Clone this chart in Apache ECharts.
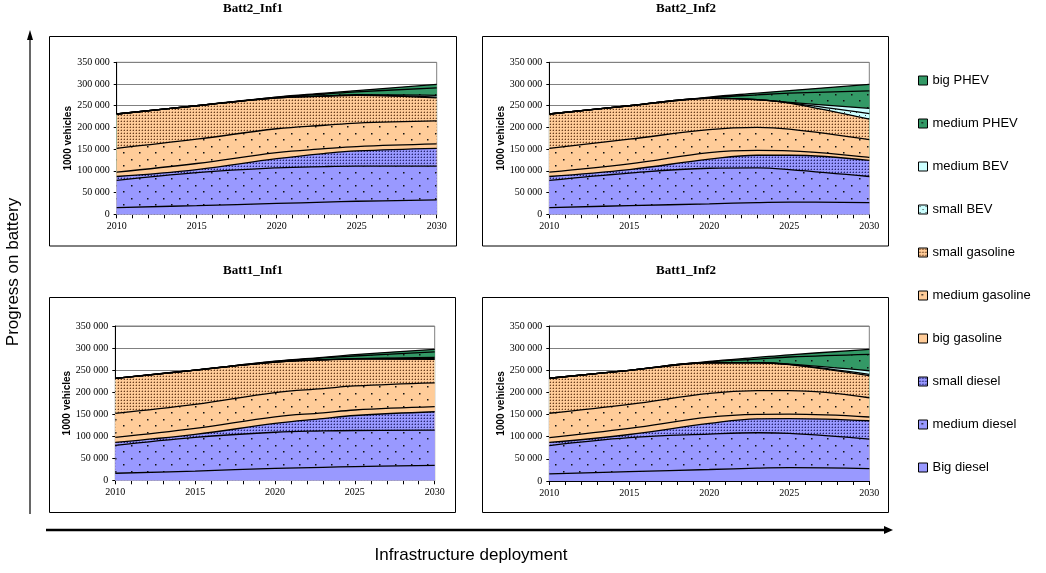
<!DOCTYPE html>
<html><head><meta charset="utf-8">
<script src="https://cdn.jsdelivr.net/npm/echarts@6/dist/echarts.min.js"></script>
<style>html,body{margin:0;padding:0;background:#fff}#c{width:1046px;height:573px}</style>
</head><body><div id="c"></div>
<script>
// ---------- DATA (cumulative top of each layer, 1000 vehicles) ----------
const years = [2010, 2015, 2020, 2023, 2025, 2030];
const layerNames = ['Big diesel','medium diesel','small diesel','big gasoline','medium gasoline','small gasoline','small BEV','medium BEV','medium PHEV','big PHEV'];
const legendOrder = ['big PHEV','medium PHEV','medium BEV','small BEV','small gasoline','medium gasoline','big gasoline','small diesel','medium diesel','Big diesel'];
const panelTitles = ['Batt2_Inf1','Batt2_Inf2','Batt1_Inf1','Batt1_Inf2'];
const xTicks = [2010, 2015, 2020, 2025, 2030];
const yTicks = [0, 50000, 100000, 150000, 200000, 250000, 300000, 350000];

// Batt2_Inf1
const b2i1_bigDiesel  = [15500, 20000, 25000, 28000, 30000, 33000];
const b2i1_medDiesel  = [78000, 96000, 107000, 110000, 111000, 111000];
const b2i1_smDiesel   = [87000, 103000, 128000, 140000, 146000, 152000];
const b2i1_bigGas     = [97000, 117000, 142000, 151000, 156000, 162000];
const b2i1_medGas     = [152000, 173000, 197000, 205000, 210000, 215000];
const b2i1_smGas      = [231000, 250000, 268000, 272000, 274000, 268000];
const b2i1_smBEV      = [231000, 250000, 268000, 272200, 274500, 270000];
const b2i1_medBEV     = [231000, 250000, 268200, 272700, 275500, 274000];
const b2i1_medPHEV    = [231000, 250000, 269500, 277000, 282000, 291000];
const b2i1_bigPHEV    = [231000, 250000, 270000, 279000, 285000, 299000];

// Batt2_Inf2
const b2i2_bigDiesel  = [15500, 20000, 24000, 27000, 28000, 27000];
const b2i2_medDiesel  = [78000, 95000, 106000, 107000, 103000, 87000];
const b2i2_smDiesel   = [87000, 103000, 127000, 136000, 136000, 124000];
const b2i2_bigGas     = [97000, 116000, 142000, 147000, 146000, 131000];
const b2i2_medGas     = [152000, 173000, 195000, 200000, 196000, 172000];
const b2i2_smGas      = [231000, 250000, 267000, 264000, 256000, 219000];
const b2i2_smBEV      = [231000, 250000, 267000, 264000, 256500, 232000];
const b2i2_medBEV     = [231000, 250000, 267000, 264200, 257500, 244000];
const b2i2_medPHEV    = [231000, 250000, 268500, 275000, 279000, 284000];
const b2i2_bigPHEV    = [231000, 250000, 270000, 279000, 285000, 299000];

// Batt1_Inf1
const b1i1_bigDiesel  = [16000, 21000, 27000, 29500, 31000, 34000];
const b1i1_medDiesel  = [79000, 97500, 109000, 112000, 113000, 114000];
const b1i1_smDiesel   = [86000, 104000, 129000, 140000, 147000, 155500];
const b1i1_bigGas     = [97500, 118000, 144000, 153000, 159500, 167000];
const b1i1_medGas     = [152000, 172000, 199000, 208000, 214000, 221000];
const b1i1_smGas      = [231000, 250000, 268000, 273000, 275000, 274500];
const b1i1_smBEV      = [231000, 250000, 268000, 273200, 275300, 276000];
const b1i1_medBEV     = [231000, 250000, 268200, 273500, 276000, 279000];
const b1i1_medPHEV    = [231000, 250000, 269500, 277500, 282000, 291500];
const b1i1_bigPHEV    = [231000, 250000, 270000, 279000, 285000, 297000];

// Batt1_Inf2
const b1i2_bigDiesel  = [16000, 21000, 26000, 29000, 30000, 28000];
const b1i2_medDiesel  = [80000, 98000, 106000, 109000, 107500, 94500];
const b1i2_smDiesel   = [87000, 105000, 130000, 140500, 141000, 136000];
const b1i2_bigGas     = [98000, 119000, 144000, 150500, 151000, 144500];
const b1i2_medGas     = [153000, 173000, 198000, 204000, 204000, 188000];
const b1i2_smGas      = [232000, 250000, 267000, 267000, 263000, 238000];
const b1i2_smBEV      = [232000, 250000, 267000, 267000, 263300, 241000];
const b1i2_medBEV     = [232000, 250000, 267000, 267200, 264000, 249000];
const b1i2_medPHEV    = [232000, 250000, 269000, 275000, 280000, 286000];
const b1i2_bigPHEV    = [232000, 250000, 270000, 279000, 285000, 297000];

// ---------- LAYOUT / STYLE ----------
const panelTops = [
  [b2i1_bigDiesel,b2i1_medDiesel,b2i1_smDiesel,b2i1_bigGas,b2i1_medGas,b2i1_smGas,b2i1_smBEV,b2i1_medBEV,b2i1_medPHEV,b2i1_bigPHEV],
  [b2i2_bigDiesel,b2i2_medDiesel,b2i2_smDiesel,b2i2_bigGas,b2i2_medGas,b2i2_smGas,b2i2_smBEV,b2i2_medBEV,b2i2_medPHEV,b2i2_bigPHEV],
  [b1i1_bigDiesel,b1i1_medDiesel,b1i1_smDiesel,b1i1_bigGas,b1i1_medGas,b1i1_smGas,b1i1_smBEV,b1i1_medBEV,b1i1_medPHEV,b1i1_bigPHEV],
  [b1i2_bigDiesel,b1i2_medDiesel,b1i2_smDiesel,b1i2_bigGas,b1i2_medGas,b1i2_smGas,b1i2_smBEV,b1i2_medBEV,b1i2_medPHEV,b1i2_bigPHEV]
];
const grids = [
  {left:116.7, top:62.3, width:320, height:152},
  {left:549.3, top:62.3, width:320, height:152},
  {left:115.3, top:326, width:319.4, height:154.3},
  {left:549.3, top:326, width:320, height:155}
];
const boxes = [
  {x:49.5, y:36.5, w:407, h:209.5, tx:253, ty:9},
  {x:482.5, y:36.5, w:406, h:209.5, tx:686, ty:9},
  {x:49.5, y:297.5, w:406, h:215, tx:253, ty:271},
  {x:482.5, y:297.5, w:406, h:215, tx:686, ty:271}
];
const BLUE='#9999FF', TAN='#FFCC99', CYAN='#CCFFFF', GREEN='#339966';

function pat(bg, w, h, dots){
  const c=document.createElement('canvas'); c.width=w; c.height=h;
  const g=c.getContext('2d'); g.fillStyle=bg; g.fillRect(0,0,w,h);
  dots.forEach(d=>{ g.fillStyle=d[2]; g.fillRect(d[0],d[1],d[3]||1,d[3]||1); });
  return {image:c, repeat:'repeat'};
}
const sparse = bg => pat(bg,16,13,[[3,3,'#111',1.5],[11,9,'#111',1.5]]);
const dense = (bg,dk,md) => pat(bg,3,3,[[1,1,dk],[0,1,md],[1,0,md]]);
const fills = [
  BLUE, sparse(BLUE), dense(BLUE,'#2a2a70','#6c6cd0'),
  TAN, sparse(TAN), dense(TAN,'#6a4020','#cf9a6c'),
  pat(CYAN,6,6,[[1,1,'#333'],[4,4,'#333']]), CYAN,
  sparse(GREEN), GREEN
];

const fmtY = v => v===0 ? '0' : String(v).replace(/\B(?=(\d{3})+(?!\d))/g,' ');

const xAxes=[], yAxes=[], series=[];
grids.forEach((g,pi)=>{
  xAxes.push({type:'value', gridIndex:pi, min:xTicks[0], max:xTicks[xTicks.length-1], interval:5,
    axisLine:{show:true, lineStyle:{color:'#000', width:1}},
    axisTick:{show:true, length:4, lineStyle:{color:'#000'}},
    minorTick:{show:true, splitNumber:5, length:4, lineStyle:{color:'#000'}},
    splitLine:{show:false},
    axisLabel:{formatter:v=>String(v), fontFamily:'Liberation Serif', fontSize:10, color:'#000', margin:7}});
  yAxes.push({type:'value', gridIndex:pi, min:yTicks[0], max:yTicks[yTicks.length-1], interval:50000,
    axisLine:{show:true, lineStyle:{color:'#000', width:1}},
    axisTick:{show:true, length:3, lineStyle:{color:'#000'}},
    splitLine:{show:true, lineStyle:{color:'#808080', width:1}},
    axisLabel:{formatter:fmtY, fontFamily:'Liberation Serif', fontSize:10, color:'#000', margin:7},
    name:'1000 vehicles', nameLocation:'middle', nameGap:43,
    nameTextStyle:{fontFamily:'Liberation Sans', fontWeight:'bold', fontSize:10, color:'#000'}});
  const tops = panelTops[pi];
  // painter's order: top layer first, each cumulative line filled down to 0
  for (let k = tops.length-1; k >= 0; k--) {
    series.push({name:layerNames[k], type:'line', xAxisIndex:pi, yAxisIndex:pi,
      data: years.map((y,i)=>[y, tops[k][i]]),
      smooth:0.4, symbol:'none', showSymbol:false,
      lineStyle:{color:'#000', width:1.3},
      areaStyle:{color:fills[k], opacity:1},
      itemStyle:{color:typeof fills[k]==='string'?fills[k]:'#888'},
      emphasis:{disabled:true}, silent:true});
  }
});

const graphic = [];
boxes.forEach((b,i)=>{
  graphic.push({type:'rect', shape:{x:b.x, y:b.y, width:b.w, height:b.h}, style:{fill:'none', stroke:'#000', lineWidth:1}, silent:true});
  graphic.push({type:'text', x:b.tx, y:b.ty, style:{text:panelTitles[i], font:'bold 13px "Liberation Serif"', fill:'#000', textAlign:'center', textVerticalAlign:'middle'}});
});
graphic.push({type:'line', shape:{x1:30, y1:514, x2:30, y2:38}, style:{stroke:'#000', lineWidth:1.2}});
graphic.push({type:'polygon', shape:{points:[[30,30],[27,40],[33,40]]}, style:{fill:'#000'}});
graphic.push({type:'line', shape:{x1:46, y1:530, x2:885, y2:530}, style:{stroke:'#000', lineWidth:2.5}});
graphic.push({type:'polygon', shape:{points:[[893,530],[884,526],[884,534]]}, style:{fill:'#000'}});
graphic.push({type:'text', x:13, y:272, rotation:Math.PI/2, style:{text:'Progress on battery', font:'17px "Liberation Sans"', fill:'#000', textAlign:'center', textVerticalAlign:'middle'}});
graphic.push({type:'text', x:471, y:555, style:{text:'Infrastructure deployment', font:'17px "Liberation Sans"', fill:'#000', textAlign:'center', textVerticalAlign:'middle'}});

const legendData = legendOrder.map(n=>{
  const k = layerNames.indexOf(n);
  return {name:n, icon:'rect', itemStyle:{color:fills[k], borderColor:'#000', borderWidth:1}};
});

const chart = echarts.init(document.getElementById('c'), null, {renderer:'canvas'});
chart.setOption({
  animation:false,
  backgroundColor:'#fff',
  grid: grids.map(g=>Object.assign({show:true, borderColor:'#808080', borderWidth:1, backgroundColor:'transparent'}, g)),
  xAxis:xAxes, yAxis:yAxes, series:series, graphic:graphic,
  legend:{data:legendData, orient:'vertical', left:913, top:69, itemWidth:9, itemHeight:9, itemGap:30,
    selectedMode:false, textStyle:{fontFamily:'Liberation Sans', fontSize:13, color:'#000'}}
});
</script></body></html>
